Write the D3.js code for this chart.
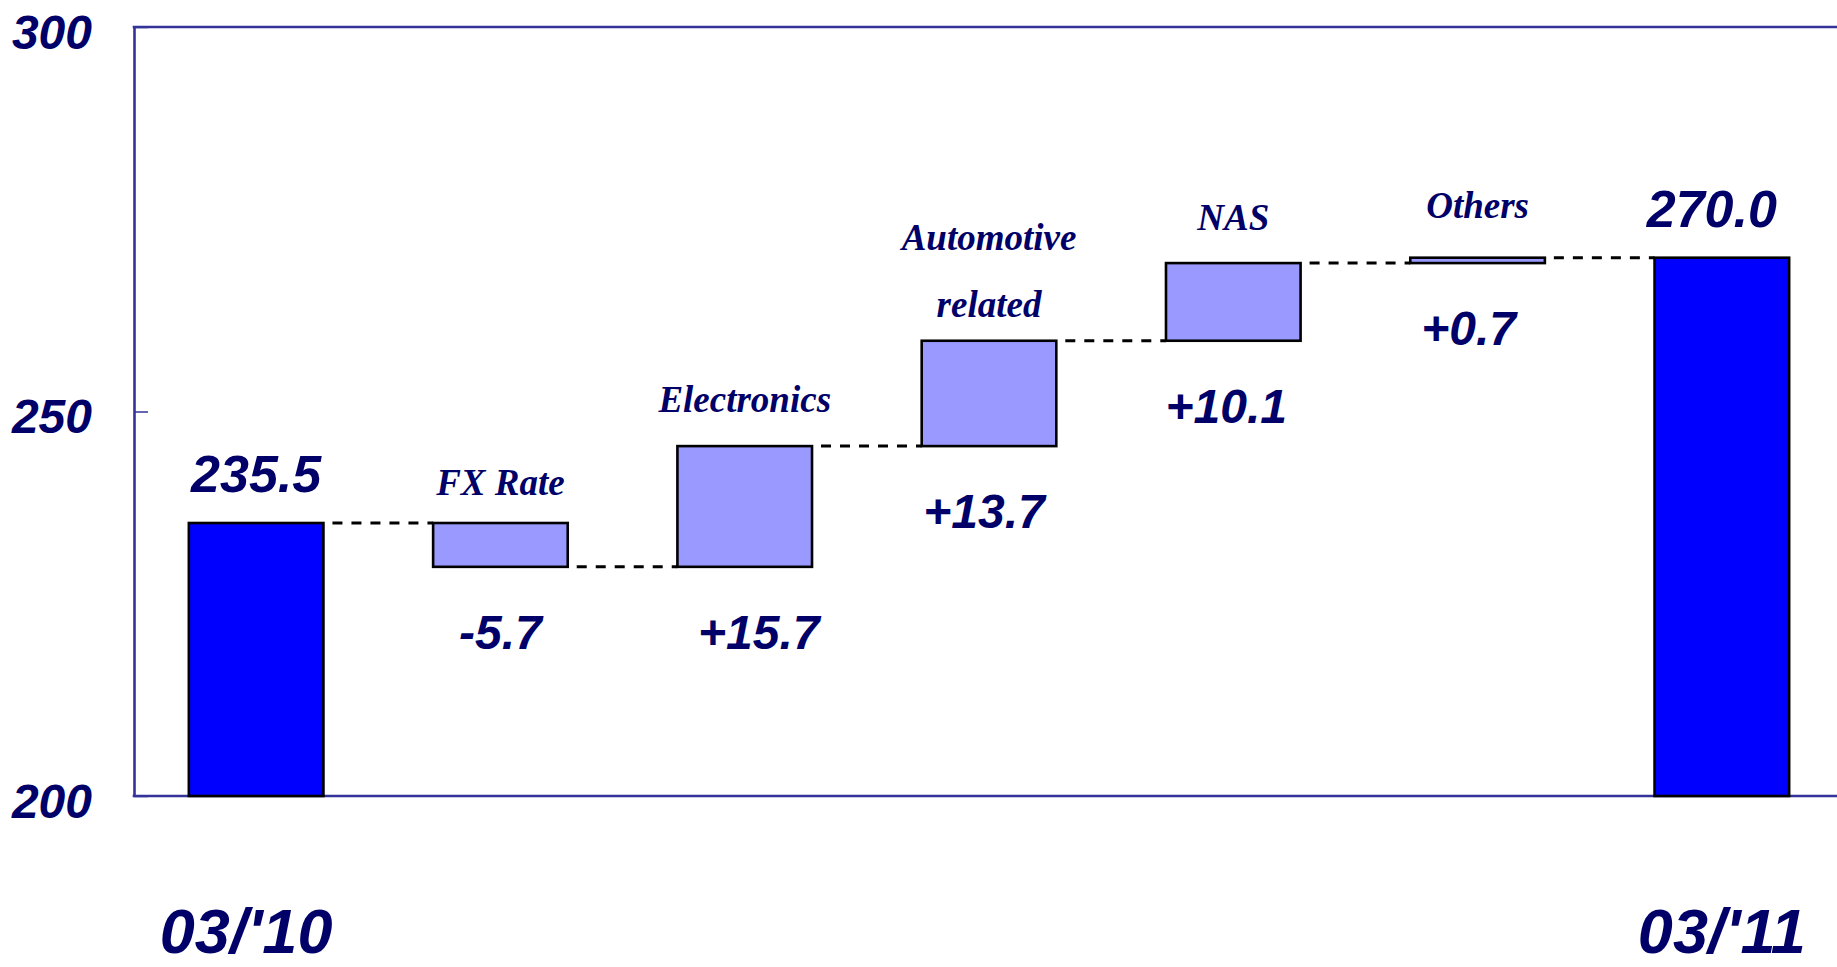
<!DOCTYPE html>
<html>
<head>
<meta charset="utf-8">
<script src="https://cdn.jsdelivr.net/npm/d3@7"></script>
<style>
  html, body { margin: 0; padding: 0; background: #ffffff; }
  svg { display: block; }
</style>
</head>
<body>
<svg id="chart" width="1837" height="967"></svg>
<script>
// ---- data ----
const categories = ["03/'10", "FX Rate", "Electronics", "Automotive related", "NAS", "Others", "03/'11"];
const categoryLines = [[], ["FX Rate"], ["Electronics"], ["Automotive", "related"], ["NAS"], ["Others"], []];
const barValues = [235.5, -5.7, 15.7, 13.7, 10.1, 0.7, 270.0];
const barKinds = ["total", "delta", "delta", "delta", "delta", "delta", "total"];
const yTickValues = [200, 250, 300];

// ---- layout ----
const W = 1837, H = 967;
const plot = { left: 134, top: 27, bottom: 796, right: 1844 };
const navy = "#000068";
const frameColor = "#333399";
const nameLift = [0, 28, 34, 24, 33, 40, 0];      // gap between bar top and its name baseline
const valueShift = [0, 0, 14, -5, -7, -9, -10];   // horizontal nudge of the value labels
const periodShift = [-10, 0, 0, 0, 0, 0, 0];      // horizontal nudge of the period labels
const totalLift = 31;                             // gap between total bar top and its value baseline
const deltaDrop = 82;                             // gap between delta bar bottom and its value baseline

const svg = d3.select("#chart");

const x = d3.scaleBand()
  .domain(categories)
  .range([plot.left, plot.right])
  .paddingInner(0.449)
  .paddingOuter(0.2245);

const y = d3.scaleLinear()
  .domain([200, 300])
  .range([plot.bottom, plot.top]);

// running totals -> floating segments
let running = 0;
const bars = categories.map((c, i) => {
  let lo, hi, level;
  if (barKinds[i] === "total") {
    lo = y.domain()[0]; hi = barValues[i]; running = barValues[i]; level = running;
  } else {
    const start = running, end = running + barValues[i];
    lo = Math.min(start, end); hi = Math.max(start, end); running = end; level = end;
  }
  return { cat: c, i, kind: barKinds[i], value: barValues[i], lo, hi, level };
});

const fmt = d3.formatLocale({ decimal: ".", thousands: ",", grouping: [3], currency: ["", ""], minus: "-" });
const fmtTotal = fmt.format(".1f");
const fmtDelta = fmt.format("+.1f");

// ---- frame: left axis, top and bottom rules ----
const yAxis = d3.axisLeft(y)
  .tickValues(yTickValues)
  .tickSizeInner(-14)
  .tickSizeOuter(0)
  .tickPadding(42)
  .tickFormat(d3.format("d"));

const gy = svg.append("g")
  .attr("transform", `translate(${plot.left},0)`)
  .call(yAxis);
gy.select(".domain").attr("stroke", frameColor).attr("stroke-width", 2.6);
gy.selectAll(".tick line").attr("stroke", frameColor).attr("stroke-width", 1.5);
gy.selectAll(".tick text")
  .attr("fill", navy)
  .attr("dy", null)
  .attr("y", 21)
  .style("font-family", "'Liberation Sans', Arial, sans-serif")
  .style("font-weight", "bold")
  .style("font-style", "italic")
  .style("font-size", "48px");

svg.append("g").selectAll("line.rule")
  .data([y.domain()[1], y.domain()[0]])
  .join("line")
  .attr("class", "rule")
  .attr("x1", plot.left - 1.3).attr("x2", W)
  .attr("y1", d => y(d)).attr("y2", d => y(d))
  .attr("stroke", frameColor).attr("stroke-width", 2.6);

// ---- dashed connectors ----
const links = bars.slice(0, -1).map((b, k) => ({ from: b, to: bars[k + 1] }));
svg.append("g").selectAll("line.link")
  .data(links)
  .join("line")
  .attr("class", "link")
  .attr("x1", d => x(d.from.cat) + x.bandwidth() + 9)
  .attr("x2", d => x(d.to.cat))
  .attr("y1", d => y(d.from.level))
  .attr("y2", d => y(d.from.level))
  .attr("stroke", "#000")
  .attr("stroke-width", 3)
  .attr("stroke-dasharray", "10,9");

// ---- bars ----
svg.append("g").selectAll("rect")
  .data(bars)
  .join("rect")
  .attr("x", d => x(d.cat))
  .attr("width", x.bandwidth())
  .attr("y", d => y(d.hi))
  .attr("height", d => y(d.lo) - y(d.hi))
  .attr("fill", d => d.kind === "total" ? "#0000ff" : "#9999ff")
  .attr("stroke", "#000")
  .attr("stroke-width", 2.6);

const cx = d => x(d.cat) + x.bandwidth() / 2;
const sansBold = "'Liberation Sans', Arial, sans-serif";
const serif = "'Liberation Serif', 'Times New Roman', serif";

// ---- value labels ----
svg.append("g").selectAll("text")
  .data(bars)
  .join("text")
  .attr("x", d => cx(d) + valueShift[d.i])
  .attr("y", d => d.kind === "total" ? y(d.hi) - totalLift : y(d.lo) + deltaDrop)
  .attr("text-anchor", "middle")
  .attr("fill", navy)
  .style("font-family", sansBold)
  .style("font-weight", "bold")
  .style("font-style", "italic")
  .style("font-size", d => d.kind === "total" ? "52px" : "48px")
  .text(d => d.kind === "total" ? fmtTotal(d.value) : fmtDelta(d.value));

// ---- category names above the change bars ----
const names = svg.append("g").selectAll("text")
  .data(bars.filter(d => d.kind === "delta"))
  .join("text")
  .attr("text-anchor", "middle")
  .attr("fill", navy)
  .style("font-family", serif)
  .style("font-weight", "bold")
  .style("font-style", "italic")
  .style("font-size", "37px");
names.each(function (d) {
  const lines = categoryLines[d.i];
  const base = y(d.hi) - nameLift[d.i];
  d3.select(this).selectAll("tspan")
    .data(lines)
    .join("tspan")
    .attr("x", cx(d))
    .attr("y", (t, j) => base - (lines.length - 1 - j) * 67)
    .text(t => t);
});

// ---- period labels under the total bars ----
svg.append("g").selectAll("text")
  .data(bars.filter(d => d.kind === "total"))
  .join("text")
  .attr("x", d => cx(d) + periodShift[d.i])
  .attr("y", 953)
  .attr("text-anchor", "middle")
  .attr("fill", navy)
  .style("font-family", sansBold)
  .style("font-weight", "bold")
  .style("font-style", "italic")
  .style("font-size", "63px")
  .text(d => d.cat);
</script>
</body>
</html>
